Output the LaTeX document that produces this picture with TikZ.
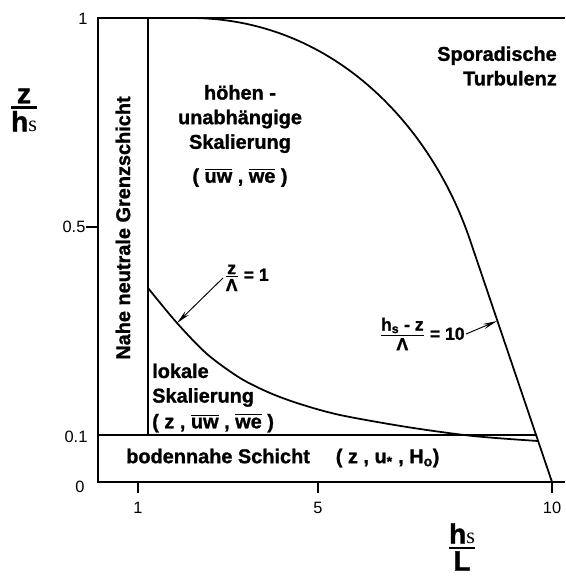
\documentclass[tikz,border=0pt]{standalone}
\usepackage{amsmath}
\usepackage{fontspec}
\setmainfont{Liberation Sans}[BoldFeatures={FakeBold=1.2}]
\newfontfamily\serifs{Liberation Serif}
\usetikzlibrary{arrows.meta}

\newcommand{\obar}[1]{$\overline{\mbox{#1}}$}

\begin{document}
\begin{tikzpicture}[x=0.3mm,y=-0.3mm,
  frame/.style={line width=1.5pt},
  region/.style={font=\fontsize{17}{21}\selectfont\bfseries,inner sep=0pt},
  eqlab/.style={font=\fontsize{15}{17}\selectfont\bfseries,inner sep=1pt},
  ticklab/.style={font=\fontsize{14}{16}\selectfont,inner sep=0pt},
  axlab/.style={font=\fontsize{24}{26}\selectfont\bfseries,inner sep=0pt},
  pointer/.style={line width=0.8pt,-{Stealth[length=12pt,width=4.5pt]}}]
\useasboundingbox (0,0) rectangle (565,576);
% Rahmen und Schichtgrenzen
\draw[frame] (565,18)--(98,18)--(98,482)--(565,482);
\draw[frame] (148,18)--(148,435);
\draw[frame] (98,435)--(536,435);
% Kurven
\draw[frame] (190,18) .. controls (330,18) and (430,122) .. (470,240) -- (552,482);
\draw[frame] plot[smooth] coordinates {(148,288) (177,323) (207,354) (240,378) (270,393) (300,404) (340,415) (407,427) (473,436) (538,441)};
% Achsen
\draw[frame] (98,227)--(86,227);
\draw[frame] (138,482)--(138,493) (318,482)--(318,493) (552,482)--(552,493);
\node[ticklab] (y1) at (83,19) {1};
\node[ticklab] (y05) at (74,227) {0.5};
\node[ticklab] (y01) at (76,437) {0.1};
\node[ticklab] (y0) at (80,487) {0};
\node[ticklab] (x1) at (138,508) {1};
\node[ticklab] (x5) at (318,508) {5};
\node[ticklab] (x10) at (552,508) {10};
\node[axlab] (zhs) at (24,110) {$\genfrac{}{}{2pt}{}{\mbox{z}}{\mbox{h\serifs\mdseries\fontsize{19}{19}\selectfont s}}$};
\node[axlab] (hsL) at (462,547) {$\genfrac{}{}{2pt}{}{\mbox{h\serifs\mdseries\fontsize{19}{19}\selectfont s}}{\mbox{L}}$};
% Bereiche
\node[region,align=center] (hoehen) at (240,136) {höhen -\\unabhängige\\Skalierung\\[8pt]( \obar{uw} , \obar{we} )};
\node[region,align=right,anchor=east] (sporad) at (557,66) {Sporadische\\Turbulenz};
\node[region,rotate=90] (nahe) at (123,228) {Nahe neutrale Grenzschicht};
\node[region,align=left,anchor=west] (lokal) at (152,398) {lokale\\Skalierung\\[1pt]( z , \obar{uw} , \obar{we} )};
\node[region,anchor=west] (boden) at (126,458) {bodennahe Schicht\hspace{1.3em}( z , u\textsubscript{*} , H\textsubscript{o})};
% Grenzkurven beschriften
\node[eqlab,anchor=west] (zlam) at (223,278) {$\genfrac{}{}{1.4pt}{}{\mbox{z}}{\mbox{Λ}}$ = 1};
\coordinate (zlamtip) at (177,323);
\draw[pointer] (zlam.west) -- (zlamtip);
\node[eqlab,anchor=east] (hzlam) at (466,334) {$\genfrac{}{}{1.4pt}{}{\mbox{h\textsubscript{s} - z}}{\mbox{Λ}}$ = 10};
\coordinate (hzlamtip) at (497,321);
\draw[pointer] (hzlam.east) -- (hzlamtip);
\end{tikzpicture}
\end{document}
